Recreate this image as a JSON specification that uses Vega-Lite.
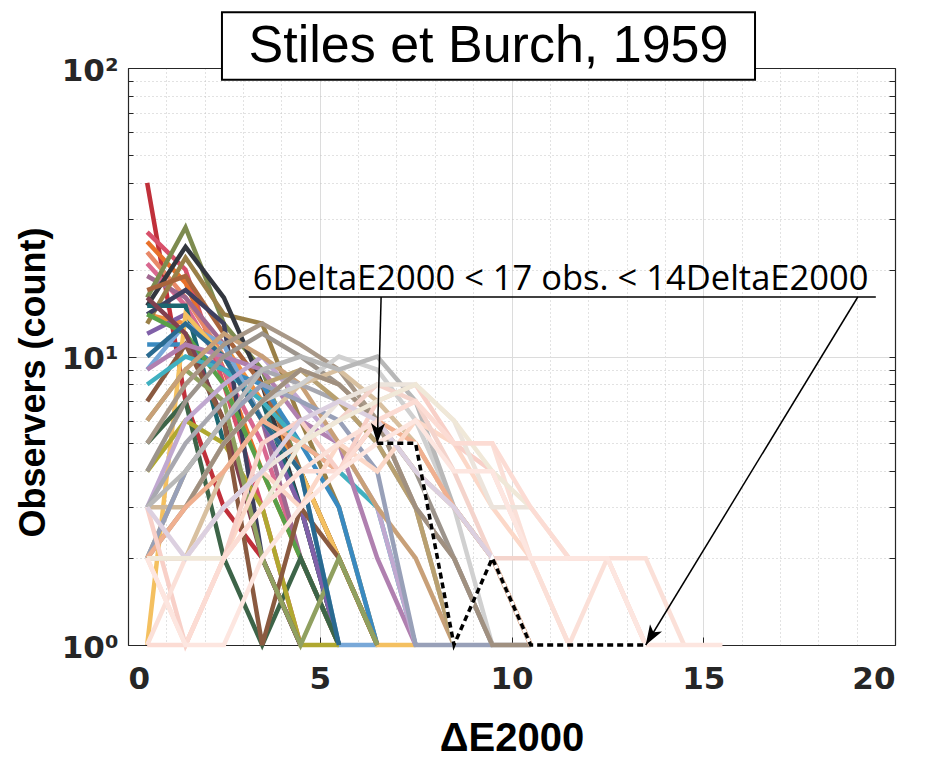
{
"$schema": "https://vega.github.io/schema/vega-lite/v6.json",
"width": 767, "height": 577,
"autosize": {"type": "none"},
"padding": {"left": 128, "top": 68, "right": 32, "bottom": 112},
"background": "white",
"config": {"view": {"stroke": null}},
"datasets": {
"obs": [
{"s":1,"x":0.5,"y":40},{"s":1,"x":1.5,"y":7},{"s":1,"x":2.5,"y":3},{"s":1,"x":3.5,"y":2},{"s":1,"x":4.5,"y":1},
{"s":2,"x":0.5,"y":27},{"s":2,"x":1.5,"y":20},{"s":2,"x":2.5,"y":8},{"s":2,"x":3.5,"y":3},{"s":2,"x":4.5,"y":1},
{"s":3,"x":0.5,"y":25},{"s":3,"x":1.5,"y":18},{"s":3,"x":2.5,"y":9},{"s":3,"x":3.5,"y":4},{"s":3,"x":4.5,"y":2},{"s":3,"x":5.5,"y":1},
{"s":4,"x":0.5,"y":23},{"s":4,"x":1.5,"y":16},{"s":4,"x":2.5,"y":10},{"s":4,"x":3.5,"y":6},{"s":4,"x":4.5,"y":3},{"s":4,"x":5.5,"y":1},
{"s":5,"x":0.5,"y":21},{"s":5,"x":1.5,"y":15},{"s":5,"x":2.5,"y":9},{"s":5,"x":3.5,"y":5},{"s":5,"x":4.5,"y":2},{"s":5,"x":5.5,"y":1},
{"s":6,"x":0.5,"y":19},{"s":6,"x":1.5,"y":16},{"s":6,"x":2.5,"y":11},{"s":6,"x":3.5,"y":6},{"s":6,"x":4.5,"y":2},{"s":6,"x":5.5,"y":1},
{"s":7,"x":0.5,"y":14},{"s":7,"x":1.5,"y":13},{"s":7,"x":2.5,"y":11},{"s":7,"x":3.5,"y":7},{"s":7,"x":4.5,"y":4},{"s":7,"x":5.5,"y":2},{"s":7,"x":6.5,"y":1},
{"s":8,"x":0.5,"y":16},{"s":8,"x":1.5,"y":28},{"s":8,"x":2.5,"y":13},{"s":8,"x":3.5,"y":9},{"s":8,"x":4.5,"y":4},{"s":8,"x":5.5,"y":2},{"s":8,"x":6.5,"y":1},
{"s":9,"x":0.5,"y":13},{"s":9,"x":1.5,"y":22},{"s":9,"x":2.5,"y":14},{"s":9,"x":3.5,"y":13},{"s":9,"x":4.5,"y":6},{"s":9,"x":5.5,"y":3},{"s":9,"x":6.5,"y":1},
{"s":10,"x":0.5,"y":15},{"s":10,"x":1.5,"y":24},{"s":10,"x":2.5,"y":16},{"s":10,"x":3.5,"y":8},{"s":10,"x":4.5,"y":3},{"s":10,"x":5.5,"y":1},
{"s":11,"x":0.5,"y":17},{"s":11,"x":1.5,"y":19},{"s":11,"x":2.5,"y":12},{"s":11,"x":3.5,"y":8},{"s":11,"x":4.5,"y":4},{"s":11,"x":5.5,"y":2},{"s":11,"x":6.5,"y":1},
{"s":12,"x":0.5,"y":14},{"s":12,"x":1.5,"y":17},{"s":12,"x":2.5,"y":13},{"s":12,"x":3.5,"y":2},{"s":12,"x":4.5,"y":1},
{"s":13,"x":0.5,"y":15},{"s":13,"x":1.5,"y":15},{"s":13,"x":2.5,"y":5},{"s":13,"x":3.5,"y":7},{"s":13,"x":4.5,"y":3},{"s":13,"x":5.5,"y":1},
{"s":14,"x":0.5,"y":11},{"s":14,"x":1.5,"y":11},{"s":14,"x":2.5,"y":9},{"s":14,"x":3.5,"y":8},{"s":14,"x":4.5,"y":5},{"s":14,"x":5.5,"y":3},{"s":14,"x":6.5,"y":1},
{"s":15,"x":0.5,"y":9},{"s":15,"x":1.5,"y":13},{"s":15,"x":2.5,"y":11},{"s":15,"x":3.5,"y":6},{"s":15,"x":4.5,"y":4},{"s":15,"x":5.5,"y":1},{"s":15,"x":6.5,"y":1},
{"s":16,"x":0.5,"y":12},{"s":16,"x":1.5,"y":14},{"s":16,"x":2.5,"y":10},{"s":16,"x":3.5,"y":6},{"s":16,"x":4.5,"y":3},{"s":16,"x":5.5,"y":1},
{"s":17,"x":0.5,"y":14},{"s":17,"x":1.5,"y":12},{"s":17,"x":2.5,"y":8},{"s":17,"x":3.5,"y":4},{"s":17,"x":4.5,"y":2},{"s":17,"x":5.5,"y":1},
{"s":18,"x":0.5,"y":1},{"s":18,"x":1.5,"y":14},{"s":18,"x":2.5,"y":10},{"s":18,"x":3.5,"y":6},{"s":18,"x":4.5,"y":4},{"s":18,"x":5.5,"y":2},{"s":18,"x":6.5,"y":1},{"s":18,"x":7.5,"y":1},
{"s":19,"x":0.5,"y":5},{"s":19,"x":1.5,"y":7},{"s":19,"x":2.5,"y":2},{"s":19,"x":3.5,"y":1},{"s":19,"x":4.5,"y":2},{"s":19,"x":5.5,"y":1},
{"s":20,"x":0.5,"y":4},{"s":20,"x":1.5,"y":6},{"s":20,"x":2.5,"y":5},{"s":20,"x":3.5,"y":3},{"s":20,"x":4.5,"y":1},{"s":20,"x":5.5,"y":1},
{"s":21,"x":0.5,"y":16},{"s":21,"x":1.5,"y":12},{"s":21,"x":2.5,"y":6},{"s":21,"x":3.5,"y":2},{"s":21,"x":4.5,"y":1},
{"s":22,"x":0.5,"y":7},{"s":22,"x":1.5,"y":11},{"s":22,"x":2.5,"y":6},{"s":22,"x":3.5,"y":1},{"s":22,"x":4.5,"y":3},{"s":22,"x":5.5,"y":2},{"s":22,"x":6.5,"y":1},
{"s":23,"x":0.5,"y":8},{"s":23,"x":1.5,"y":10},{"s":23,"x":2.5,"y":9},{"s":23,"x":3.5,"y":7},{"s":23,"x":4.5,"y":5},{"s":23,"x":5.5,"y":4},{"s":23,"x":6.5,"y":3},{"s":23,"x":7.5,"y":1},
{"s":24,"x":0.5,"y":6},{"s":24,"x":1.5,"y":9},{"s":24,"x":2.5,"y":7},{"s":24,"x":3.5,"y":2},{"s":24,"x":4.5,"y":1},{"s":24,"x":5.5,"y":2},{"s":24,"x":6.5,"y":1},
{"s":25,"x":0.5,"y":10},{"s":25,"x":1.5,"y":13},{"s":25,"x":2.5,"y":10},{"s":25,"x":3.5,"y":6},{"s":25,"x":4.5,"y":4},{"s":25,"x":5.5,"y":1},
{"s":26,"x":0.5,"y":9},{"s":26,"x":1.5,"y":11},{"s":26,"x":2.5,"y":10},{"s":26,"x":3.5,"y":9},{"s":26,"x":4.5,"y":6},{"s":26,"x":5.5,"y":5},{"s":26,"x":6.5,"y":2},{"s":26,"x":7.5,"y":1},
{"s":27,"x":0.5,"y":3},{"s":27,"x":1.5,"y":6},{"s":27,"x":2.5,"y":8},{"s":27,"x":3.5,"y":10},{"s":27,"x":4.5,"y":7},{"s":27,"x":5.5,"y":5},{"s":27,"x":6.5,"y":3},{"s":27,"x":7.5,"y":1},
{"s":28,"x":0.5,"y":6},{"s":28,"x":1.5,"y":9},{"s":28,"x":2.5,"y":12},{"s":28,"x":3.5,"y":10},{"s":28,"x":4.5,"y":8},{"s":28,"x":5.5,"y":5},{"s":28,"x":6.5,"y":3},{"s":28,"x":7.5,"y":2},{"s":28,"x":8.5,"y":1},
{"s":29,"x":0.5,"y":5},{"s":29,"x":1.5,"y":8},{"s":29,"x":2.5,"y":11},{"s":29,"x":3.5,"y":13},{"s":29,"x":4.5,"y":11},{"s":29,"x":5.5,"y":9},{"s":29,"x":6.5,"y":6},{"s":29,"x":7.5,"y":3},{"s":29,"x":8.5,"y":1},
{"s":30,"x":0.5,"y":4},{"s":30,"x":1.5,"y":7},{"s":30,"x":2.5,"y":10},{"s":30,"x":3.5,"y":12},{"s":30,"x":4.5,"y":10},{"s":30,"x":5.5,"y":8},{"s":30,"x":6.5,"y":6},{"s":30,"x":7.5,"y":4},{"s":30,"x":8.5,"y":2},{"s":30,"x":9.5,"y":1},
{"s":31,"x":0.5,"y":3},{"s":31,"x":1.5,"y":5},{"s":31,"x":2.5,"y":7},{"s":31,"x":3.5,"y":9},{"s":31,"x":4.5,"y":8},{"s":31,"x":5.5,"y":7},{"s":31,"x":6.5,"y":5},{"s":31,"x":7.5,"y":3},{"s":31,"x":8.5,"y":2},{"s":31,"x":9.5,"y":1},{"s":31,"x":10.5,"y":1},
{"s":32,"x":0.5,"y":2},{"s":32,"x":1.5,"y":4},{"s":32,"x":2.5,"y":6},{"s":32,"x":3.5,"y":8},{"s":32,"x":4.5,"y":9},{"s":32,"x":5.5,"y":7},{"s":32,"x":6.5,"y":5},{"s":32,"x":7.5,"y":3},{"s":32,"x":8.5,"y":1},
{"s":33,"x":0.5,"y":2},{"s":33,"x":1.5,"y":2},{"s":33,"x":2.5,"y":4},{"s":33,"x":3.5,"y":6},{"s":33,"x":4.5,"y":8},{"s":33,"x":5.5,"y":9},{"s":33,"x":6.5,"y":7},{"s":33,"x":7.5,"y":5},{"s":33,"x":8.5,"y":3},{"s":33,"x":9.5,"y":2},{"s":33,"x":10.5,"y":1},
{"s":34,"x":0.5,"y":3},{"s":34,"x":1.5,"y":3},{"s":34,"x":2.5,"y":5},{"s":34,"x":3.5,"y":7},{"s":34,"x":4.5,"y":9},{"s":34,"x":5.5,"y":8},{"s":34,"x":6.5,"y":6},{"s":34,"x":7.5,"y":4},{"s":34,"x":8.5,"y":3},{"s":34,"x":9.5,"y":2},
{"s":35,"x":0.5,"y":2},{"s":35,"x":1.5,"y":4},{"s":35,"x":2.5,"y":6},{"s":35,"x":3.5,"y":8},{"s":35,"x":4.5,"y":7},{"s":35,"x":5.5,"y":6},{"s":35,"x":6.5,"y":4},{"s":35,"x":7.5,"y":1},{"s":35,"x":8.5,"y":1},{"s":35,"x":9.5,"y":1},
{"s":36,"x":0.5,"y":2},{"s":36,"x":1.5,"y":3},{"s":36,"x":2.5,"y":5},{"s":36,"x":3.5,"y":7},{"s":36,"x":4.5,"y":8},{"s":36,"x":5.5,"y":10},{"s":36,"x":6.5,"y":9},{"s":36,"x":7.5,"y":6},{"s":36,"x":8.5,"y":3},{"s":36,"x":9.5,"y":1},
{"s":37,"x":0.5,"y":3},{"s":37,"x":1.5,"y":4},{"s":37,"x":2.5,"y":6},{"s":37,"x":3.5,"y":9},{"s":37,"x":4.5,"y":10},{"s":37,"x":5.5,"y":9},{"s":37,"x":6.5,"y":10},{"s":37,"x":7.5,"y":7},{"s":37,"x":8.5,"y":3},{"s":37,"x":9.5,"y":2},{"s":37,"x":10.5,"y":1},
{"s":38,"x":0.5,"y":2},{"s":38,"x":1.5,"y":3},{"s":38,"x":2.5,"y":5},{"s":38,"x":3.5,"y":7},{"s":38,"x":4.5,"y":9},{"s":38,"x":5.5,"y":8},{"s":38,"x":6.5,"y":6},{"s":38,"x":7.5,"y":3},{"s":38,"x":8.5,"y":2},{"s":38,"x":9.5,"y":1},{"s":38,"x":10.5,"y":1},
{"s":39,"x":0.5,"y":2},{"s":39,"x":1.5,"y":3},{"s":39,"x":2.5,"y":4},{"s":39,"x":3.5,"y":6},{"s":39,"x":4.5,"y":5},{"s":39,"x":5.5,"y":4},{"s":39,"x":6.5,"y":6},{"s":39,"x":7.5,"y":5},{"s":39,"x":8.5,"y":3},{"s":39,"x":9.5,"y":2},{"s":39,"x":10.5,"y":1},
{"s":40,"x":0.5,"y":2},{"s":40,"x":1.5,"y":1},{"s":40,"x":2.5,"y":2},{"s":40,"x":3.5,"y":4},{"s":40,"x":4.5,"y":3},{"s":40,"x":5.5,"y":5},{"s":40,"x":6.5,"y":4},{"s":40,"x":7.5,"y":6},{"s":40,"x":8.5,"y":5},{"s":40,"x":9.5,"y":3},{"s":40,"x":10.5,"y":2},{"s":40,"x":11.5,"y":1},
{"s":41,"x":0.5,"y":3},{"s":41,"x":1.5,"y":1},{"s":41,"x":2.5,"y":2},{"s":41,"x":3.5,"y":5},{"s":41,"x":4.5,"y":6},{"s":41,"x":5.5,"y":4},{"s":41,"x":6.5,"y":7},{"s":41,"x":7.5,"y":8},{"s":41,"x":8.5,"y":5},{"s":41,"x":9.5,"y":4},{"s":41,"x":10.5,"y":2},
{"s":42,"x":0.5,"y":2},{"s":42,"x":1.5,"y":2},{"s":42,"x":2.5,"y":3},{"s":42,"x":3.5,"y":4},{"s":42,"x":4.5,"y":5},{"s":42,"x":5.5,"y":6},{"s":42,"x":6.5,"y":8},{"s":42,"x":7.5,"y":7},{"s":42,"x":8.5,"y":4},{"s":42,"x":9.5,"y":2},{"s":42,"x":10.5,"y":2},{"s":42,"x":11.5,"y":2},{"s":42,"x":12.5,"y":2},{"s":42,"x":13.5,"y":1},
{"s":43,"x":0.5,"y":1},{"s":43,"x":1.5,"y":2},{"s":43,"x":2.5,"y":2},{"s":43,"x":3.5,"y":3},{"s":43,"x":4.5,"y":4},{"s":43,"x":5.5,"y":5},{"s":43,"x":6.5,"y":6},{"s":43,"x":7.5,"y":7},{"s":43,"x":8.5,"y":5},{"s":43,"x":9.5,"y":5},{"s":43,"x":10.5,"y":2},{"s":43,"x":11.5,"y":1},{"s":43,"x":12.5,"y":2},{"s":43,"x":13.5,"y":2},{"s":43,"x":14.5,"y":1},
{"s":44,"x":0.5,"y":2},{"s":44,"x":1.5,"y":2},{"s":44,"x":2.5,"y":3},{"s":44,"x":3.5,"y":4},{"s":44,"x":4.5,"y":5},{"s":44,"x":5.5,"y":7},{"s":44,"x":6.5,"y":8},{"s":44,"x":7.5,"y":8},{"s":44,"x":8.5,"y":6},{"s":44,"x":9.5,"y":3},{"s":44,"x":10.5,"y":3},
{"s":45,"x":0.5,"y":3},{"s":45,"x":1.5,"y":2},{"s":45,"x":2.5,"y":3},{"s":45,"x":3.5,"y":4},{"s":45,"x":4.5,"y":6},{"s":45,"x":5.5,"y":7},{"s":45,"x":6.5,"y":6},{"s":45,"x":7.5,"y":4},{"s":45,"x":8.5,"y":3},{"s":45,"x":9.5,"y":2},
{"s":46,"x":0.5,"y":2},{"s":46,"x":1.5,"y":2},{"s":46,"x":2.5,"y":2},{"s":46,"x":3.5,"y":3},{"s":46,"x":4.5,"y":5},{"s":46,"x":5.5,"y":6},{"s":46,"x":6.5,"y":7},{"s":46,"x":7.5,"y":8},{"s":46,"x":8.5,"y":6},{"s":46,"x":9.5,"y":4},{"s":46,"x":10.5,"y":3},{"s":46,"x":11.5,"y":2},
{"s":47,"x":0.5,"y":1},{"s":47,"x":1.5,"y":1},{"s":47,"x":2.5,"y":2},{"s":47,"x":3.5,"y":3},{"s":47,"x":4.5,"y":4},{"s":47,"x":5.5,"y":4},{"s":47,"x":6.5,"y":6},{"s":47,"x":7.5,"y":7},{"s":47,"x":8.5,"y":5},{"s":47,"x":9.5,"y":5},{"s":47,"x":10.5,"y":3},{"s":47,"x":11.5,"y":2},{"s":47,"x":12.5,"y":2},{"s":47,"x":13.5,"y":1},
{"s":48,"x":0.5,"y":2},{"s":48,"x":1.5,"y":1},{"s":48,"x":2.5,"y":1},{"s":48,"x":3.5,"y":2},{"s":48,"x":4.5,"y":3},{"s":48,"x":5.5,"y":4},{"s":48,"x":6.5,"y":5},{"s":48,"x":7.5,"y":6},{"s":48,"x":8.5,"y":4},{"s":48,"x":9.5,"y":4},{"s":48,"x":10.5,"y":2},{"s":48,"x":11.5,"y":2},{"s":48,"x":12.5,"y":2},{"s":48,"x":13.5,"y":1},{"s":48,"x":14.5,"y":1},{"s":48,"x":15.5,"y":1}
],
"hl": [
{"x":6.5,"y":5},{"x":7.5,"y":5},{"x":8.5,"y":1},{"x":9.5,"y":2},{"x":10.5,"y":1},{"x":11.5,"y":1},{"x":12.5,"y":1},{"x":13.5,"y":1}
],
"box": [{"x":2.45,"x2":16.35,"y":91,"y2":156}],
"boxtext": [{"x":9.4,"y":119,"t":"Stiles et Burch, 1959"}],
"note": [{"x":11.28,"y":17.0,"t":"6DeltaE2000 < 17 obs. < 14DeltaE2000"}],
"underline": [{"x":3.15,"x2":19.5,"y":16.08}],
"arrows": [{"x":6.6,"y":16.08,"x2":6.5,"y2":5},{"x":19.03,"y":16.08,"x2":13.5,"y2":1}],
"head1": [{"x":6.5,"y":5}],
"head2": [{"x":13.5,"y":1}]
},
"layer": [
{"data": {"name": "hl"}, "mark": {"type": "line", "opacity": 0},
 "encoding": {
  "x": {"field": "x", "type": "quantitative", "scale": {"type": "linear", "domain": [0, 20], "nice": false, "zero": false},
        "axis": {"orient": "bottom", "values": [1,2,3,4,6,7,8,9,11,12,13,14,16,17,18,19], "grid": true, "gridDash": [1,3], "gridColor": "#c4c4c4", "gridWidth": 1, "ticks": false, "labels": false, "domain": false, "title": null}},
  "y": {"field": "y", "type": "quantitative", "scale": {"type": "log", "domain": [1, 100], "nice": false},
        "axis": {"orient": "left", "values": [2,3,4,5,6,7,8,9,20,30,40,50,60,70,80,90], "grid": true, "gridDash": [1,3], "gridColor": "#c4c4c4", "gridWidth": 1, "ticks": true, "tickSize": -5, "tickColor": "#262626", "tickWidth": 1, "labels": false, "domain": false, "title": null}}
 }},
{"data": {"name": "hl"}, "mark": {"type": "line", "opacity": 0},
 "encoding": {
  "x": {"field": "x", "type": "quantitative", "scale": {"type": "linear", "domain": [0, 20], "nice": false, "zero": false},
        "axis": {"orient": "top", "values": [0,5,10,15,20], "grid": false, "ticks": true, "tickSize": -8, "tickColor": "#262626", "labels": false, "domain": true, "domainColor": "#262626", "domainWidth": 1.2, "title": null}},
  "y": {"field": "y", "type": "quantitative", "scale": {"type": "log", "domain": [1, 100], "nice": false},
        "axis": {"orient": "right", "values": [1,2,3,4,5,6,7,8,9,10,20,30,40,50,60,70,80,90,100], "grid": false, "ticks": true, "tickSize": -6, "tickColor": "#262626", "labels": false, "domain": true, "domainColor": "#262626", "domainWidth": 1.2, "title": null}}
 }},
{"data": {"name": "obs"}, "mark": {"type": "line", "strokeWidth": 4.5, "strokeJoin": "miter", "strokeCap": "butt"},
 "encoding": {
  "x": {"field": "x", "type": "quantitative", "scale": {"type": "linear", "domain": [0, 20], "nice": false, "zero": false},
        "axis": {"orient": "bottom", "values": [0,5,10,15,20], "grid": true, "gridColor": "#dcdcdc", "gridWidth": 1, "ticks": true, "tickSize": -8, "tickColor": "#262626", "labelPadding": 27, "labelFont": "DejaVu Sans", "labelFontWeight": "bold", "labelFontSize": 31, "labelColor": "#262626", "labelBaseline": "top", "domain": true, "domainColor": "#262626", "domainWidth": 1.2,
                 "title": "ΔE2000", "titleFont": "Liberation Sans", "titleFontWeight": "bold", "titleFontSize": 40, "titleColor": "#000000", "titlePadding": 24}},
  "y": {"field": "y", "type": "quantitative", "scale": {"type": "log", "domain": [1, 100], "nice": false},
        "axis": {"orient": "left", "values": [1,10,100], "grid": true, "gridColor": "#dcdcdc", "gridWidth": 1, "ticks": true, "tickSize": -8, "tickColor": "#262626", "labelPadding": 18, "labelFont": "DejaVu Sans", "labelFontWeight": "bold", "labelFontSize": 31, "labelColor": "#262626", "labelAlign": "right", "labelBaseline": "middle", "labelOffset": 3,
                 "labelExpr": "datum.value == 1 ? '10⁰' : datum.value == 10 ? '10¹' : '10²'", "domain": true, "domainColor": "#262626", "domainWidth": 1.2,
                 "title": "Observers (count)", "titleFont": "Liberation Sans", "titleFontWeight": "bold", "titleFontSize": 36, "titleColor": "#000000", "titleAngle": -90, "titleBaseline": "middle", "titleX": -95, "titleY": 314}},
  "color": {"field": "s", "type": "nominal", "legend": null,
            "scale": {"domain": [1,2,3,4,5,6,7,8,9,10,11,12,13,14,15,16,17,18,19,20,21,22,23,24,25,26,27,28,29,30,31,32,33,34,35,36,37,38,39,40,41,42,43,44,45,46,47,48],
                      "range": ["#c0303a","#d8506a","#e8702a","#e88868","#d86890","#a06890","#f09040","#7d8b4f","#9a8048","#33373f","#a8643c","#3e4060","#1c6670","#3a8ac0","#78a8d8","#8060a8","#58a048","#f4c060","#3d6448","#b0a830","#804050","#8a5a40","#40b0c0","#90a060","#2a6a90","#b080b0","#c0a8d0","#c8a078","#a89888","#9c948c","#a8a8b0","#b8a070","#d8c0a0","#d0b898","#98a0b8","#d0d0d0","#b8b8b8","#a09080","#f0b090","#fcd8c8","#f8d0c8","#f4d4cc","#fbe0d8","#ece4dc","#dcd0e0","#f0e8d8","#fcdcd4","#fde6e0"]}}
 }},
{"data": {"name": "hl"}, "mark": {"type": "line", "color": "#ffffff", "strokeWidth": 3.5},
 "encoding": {"x": {"field": "x", "type": "quantitative", "axis": null}, "y": {"field": "y", "type": "quantitative", "axis": null}}},
{"data": {"name": "hl"}, "mark": {"type": "line", "color": "#000000", "strokeWidth": 3.5, "strokeDash": [6, 4]},
 "encoding": {"x": {"field": "x", "type": "quantitative", "axis": null}, "y": {"field": "y", "type": "quantitative", "axis": null}}},
{"data": {"name": "underline"}, "mark": {"type": "rule", "color": "#000000", "strokeWidth": 1.5},
 "encoding": {"x": {"field": "x", "type": "quantitative", "axis": null}, "x2": {"field": "x2"}, "y": {"field": "y", "type": "quantitative", "axis": null}}},
{"data": {"name": "arrows"}, "mark": {"type": "rule", "color": "#000000", "strokeWidth": 1.5},
 "encoding": {"x": {"field": "x", "type": "quantitative", "axis": null}, "x2": {"field": "x2"}, "y": {"field": "y", "type": "quantitative", "axis": null}, "y2": {"field": "y2"}}},
{"data": {"name": "head1"}, "mark": {"type": "point", "shape": "M0,0L-0.35,-1L0,-0.75L0.35,-1Z", "filled": true, "color": "#000000", "opacity": 1, "size": 1600, "angle": 2, "strokeWidth": 0},
 "encoding": {"x": {"field": "x", "type": "quantitative", "axis": null}, "y": {"field": "y", "type": "quantitative", "axis": null}}},
{"data": {"name": "head2"}, "mark": {"type": "point", "shape": "M0,0L-0.35,-1L0,-0.75L0.35,-1Z", "filled": true, "color": "#000000", "opacity": 1, "size": 1600, "angle": 31, "strokeWidth": 0},
 "encoding": {"x": {"field": "x", "type": "quantitative", "axis": null}, "y": {"field": "y", "type": "quantitative", "axis": null}}},
{"data": {"name": "note"}, "mark": {"type": "text", "font": "Open Sans", "fontSize": 34.5, "color": "#000000", "align": "center", "baseline": "alphabetic"},
 "encoding": {"x": {"field": "x", "type": "quantitative", "axis": null}, "y": {"field": "y", "type": "quantitative", "axis": null}, "text": {"field": "t"}}},
{"data": {"name": "box"}, "mark": {"type": "rect", "fill": "#ffffff", "stroke": "#000000", "strokeWidth": 2},
 "encoding": {"x": {"field": "x", "type": "quantitative", "axis": null}, "x2": {"field": "x2"}, "y": {"field": "y", "type": "quantitative", "axis": null}, "y2": {"field": "y2"}}},
{"data": {"name": "boxtext"}, "mark": {"type": "text", "font": "Liberation Sans", "fontSize": 52, "color": "#000000", "align": "center", "baseline": "middle"},
 "encoding": {"x": {"field": "x", "type": "quantitative", "axis": null}, "y": {"field": "y", "type": "quantitative", "axis": null}, "text": {"field": "t"}}}
],
"resolve": {"axis": {"x": "independent", "y": "independent"}}
}
